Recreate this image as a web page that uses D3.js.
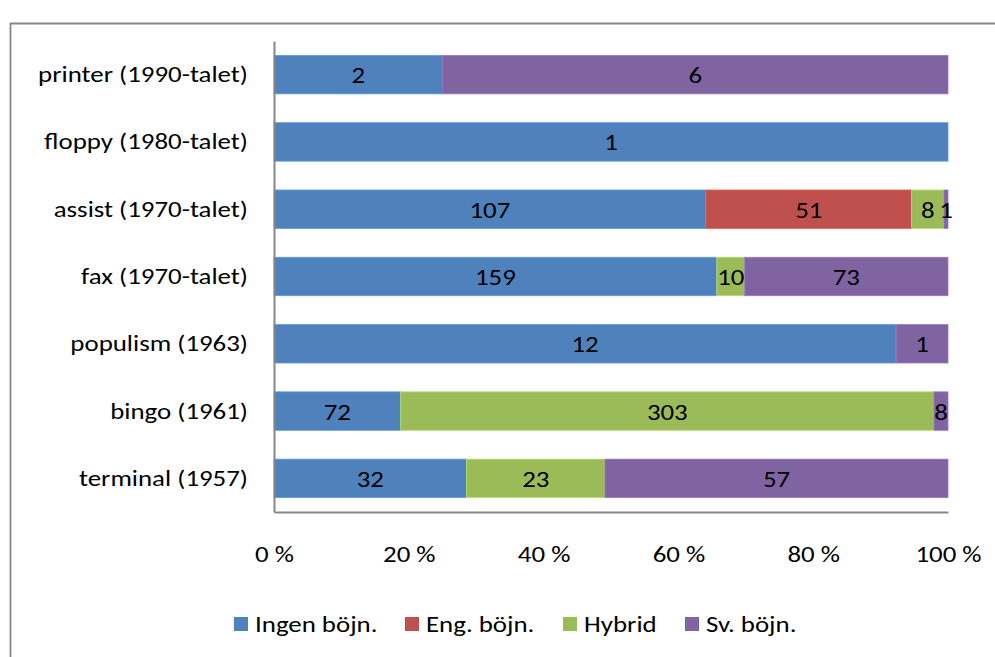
<!DOCTYPE html>
<html>
<head>
<meta charset="utf-8">
<script src="https://cdn.jsdelivr.net/npm/d3@7"></script>
<style>
  html, body { margin: 0; padding: 0; background: #fff; }
  svg { display: block; }
  text { font-family: Carlito, Calibri, "Liberation Sans Narrow", "Open Sans", sans-serif; }
</style>
</head>
<body>
<svg id="chart" width="995" height="657"></svg>
<script>
const categories = ["printer (1990-talet)", "floppy (1980-talet)", "assist (1970-talet)", "fax (1970-talet)", "populism (1963)", "bingo (1961)", "terminal (1957)"];
const seriesNames = ["Ingen böjn.", "Eng. böjn.", "Hybrid", "Sv. böjn."];
const ingen = [2, 1, 107, 159, 12, 72, 32];
const eng = [0, 0, 51, 0, 0, 0, 0];
const hybrid = [0, 0, 8, 10, 0, 303, 23];
const sv = [6, 0, 1, 73, 1, 8, 57];
const tickValues = [0, 0.2, 0.4, 0.6, 0.8, 1.0];
const tickLabels = ["0 %", "20 %", "40 %", "60 %", "80 %", "100 %"];
const colors = ["#4F81BD", "#C0504D", "#9BBB59", "#8064A2"];

(function () {
const seriesValues = [ingen, eng, hybrid, sv];
const rows = categories.map((c, i) => {
  const r = { cat: c };
  seriesNames.forEach((s, j) => r[s] = seriesValues[j][i]);
  r.total = seriesValues.reduce((a, arr) => a + arr[i], 0);
  return r;
});

const svg = d3.select("#chart");
const pl = 274, pr = 948, pt = 41, pb = 512;
const fs = 21.5;
const sx = 1.25; // horizontal stretch of the reference text
const ff = 'Carlito, Calibri, "Liberation Sans Narrow", "Open Sans", sans-serif';

function place(sel, fx, fy) {
  sel.attr("x", null).attr("y", null)
    .attr("transform", (d, i, n) => `translate(${fx(d, i, n)},${fy(d, i, n)}) scale(${sx},1)`);
}

svg.append("path")
  .attr("d", `M10.5,700 L10.5,23.5 L1100,23.5`)
  .attr("fill", "none").attr("stroke", "#878787").attr("stroke-width", 1.8);

const x = d3.scaleLinear().domain([0, 1]).range([pl, pr]);
const p = 0.75 / 1.75;
const y = d3.scaleBand().domain(categories).range([pt, pb]).paddingInner(p).paddingOuter(p / 2);

const stack = d3.stack().keys(seriesNames).value((d, k) => d[k] / d.total);
const stacked = stack(rows);

const g = svg.append("g");
stacked.forEach((layer, j) => {
  g.append("g").selectAll("rect").data(layer.filter(d => d[1] - d[0] > 0)).join("rect")
    .attr("x", d => x(d[0]))
    .attr("y", d => y(d.data.cat))
    .attr("width", d => x(d[1]) - x(d[0]))
    .attr("height", y.bandwidth())
    .attr("fill", colors[j])
    .attr("stroke", d3.color(colors[j]).brighter(0.5))
    .attr("stroke-width", 0.8);
});
stacked.forEach((layer, j) => {
  const t = g.append("g").selectAll("text").data(layer.filter(d => d[1] - d[0] > 0)).join("text")
    .attr("dy", "0.35em")
    .attr("text-anchor", "middle")
    .attr("font-size", fs)
    .attr("fill", "#000")
    .text(d => d.data[layer.key]);
  place(t, d => (x(d[0]) + x(d[1])) / 2, d => y(d.data.cat) + y.bandwidth() / 2 + 1);
});

const xAxis = d3.axisBottom(x).tickValues(tickValues).tickSize(0).tickPadding(0)
  .tickFormat((d, i) => tickLabels[i]);
const xg = svg.append("g").attr("transform", `translate(0,${pb})`).call(xAxis);
xg.select(".domain").attr("stroke", "#878787").attr("stroke-width", 2);
const xt = xg.selectAll(".tick text").attr("font-size", fs).attr("fill", "#000").attr("dy", null)
  .style("font-family", ff);
place(xt, () => 0, () => 50);

const yAxis = d3.axisLeft(y).tickSize(0).tickPadding(26);
const yg = svg.append("g").attr("transform", `translate(${pl},0)`).call(yAxis);
yg.select(".domain").attr("stroke", "#878787").attr("stroke-width", 2);
const yt = yg.selectAll(".tick text").attr("font-size", fs).attr("fill", "#000").attr("dy", "0.35em")
  .style("font-family", ff);
place(yt, () => -26, () => 0);

const legendX = [234, 405, 563, 685];
const lg = svg.append("g");
seriesNames.forEach((s, j) => {
  lg.append("rect").attr("x", legendX[j]).attr("y", 617).attr("width", 14).attr("height", 14).attr("fill", colors[j]);
  const t = lg.append("text").attr("font-size", fs).attr("fill", "#000").text(s);
  place(t, () => legendX[j] + 21, () => 632);
});
})();
</script>
</body>
</html>
